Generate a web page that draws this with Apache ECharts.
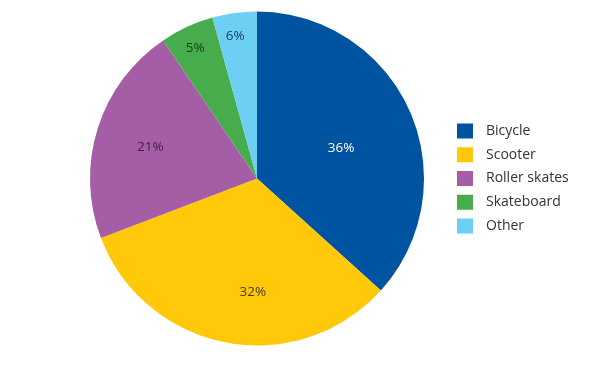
<!DOCTYPE html>
<html><head><meta charset="utf-8">
<script src="https://cdn.jsdelivr.net/npm/echarts@6/dist/echarts.min.js"></script>
<style>html,body{margin:0;padding:0;background:#fff}#c{width:600px;height:367px}</style>
</head><body><div id="c"></div>
<script>
// Categories, printed labels and slice sizes as drawn in the picture
const categories = ['Bicycle', 'Scooter', 'Roller skates', 'Skateboard', 'Other'];
const printedLabels = ['36%', '32%', '21%', '5%', '6%'];
const values = [36.7, 32.5, 21.3, 5.2, 4.3];
const colors = ['#0053A0', '#FFC808', '#A55EA6', '#46AC4C', '#6ECFF5'];
const labelColors = ['#ffffff', '#4a3b12', '#3d2344', '#173d1b', '#17406a'];

const chart = echarts.init(document.getElementById('c'), null, {renderer: 'canvas'});
const center = [257, 178.5];
const R = 167;
const font = '"Open Sans", "Noto Sans", sans-serif';
const labelShift = [[0, 7], [17, 1], [3, 3], [0, 3], [-2, 3]];

function makeData(showIdx, transparent) {
  return categories.map((name, i) => ({
    name: name,
    value: values[i],
    itemStyle: transparent ? {color: 'rgba(0,0,0,0)'} : {color: colors[i]},
    label: {show: showIdx.includes(i), color: labelColors[i]}
  }));
}

const labelCommon = {
  position: 'inside',
  formatter: p => printedLabels[p.dataIndex],
  fontSize: 13.5,
  fontFamily: font
};
const shiftLayout = p => ({dx: labelShift[p.dataIndex][0], dy: labelShift[p.dataIndex][1]});

chart.setOption({
  animation: false,
  legend: {
    orient: 'vertical',
    left: 457,
    top: 123.5,
    padding: 0,
    itemWidth: 16,
    itemHeight: 15,
    itemGap: 8.75,
    icon: 'rect',
    data: categories,
    textStyle: {fontSize: 14, lineHeight: 15, color: '#333', fontFamily: font, padding: [0, 0, 0, 8]}
  },
  series: [
    {
      type: 'pie', center: center, radius: [0, R], startAngle: 90, clockwise: true,
      label: {show: false}, labelLine: {show: false},
      itemStyle: {borderWidth: 0},
      emphasis: {disabled: true},
      data: makeData([], false)
    },
    {
      type: 'pie', center: center, radius: [11, R], startAngle: 90, clockwise: true, silent: true,
      label: labelCommon, labelLine: {show: false}, labelLayout: shiftLayout,
      emphasis: {disabled: true},
      data: makeData([0], true)
    },
    {
      type: 'pie', center: center, radius: [57, R], startAngle: 90, clockwise: true, silent: true,
      label: labelCommon, labelLine: {show: false}, labelLayout: shiftLayout,
      emphasis: {disabled: true},
      data: makeData([1, 2], true)
    },
    {
      type: 'pie', center: center, radius: [121, R], startAngle: 90, clockwise: true, silent: true,
      label: labelCommon, labelLine: {show: false}, labelLayout: shiftLayout,
      emphasis: {disabled: true},
      data: makeData([3, 4], true)
    }
  ]
});
</script></body></html>
